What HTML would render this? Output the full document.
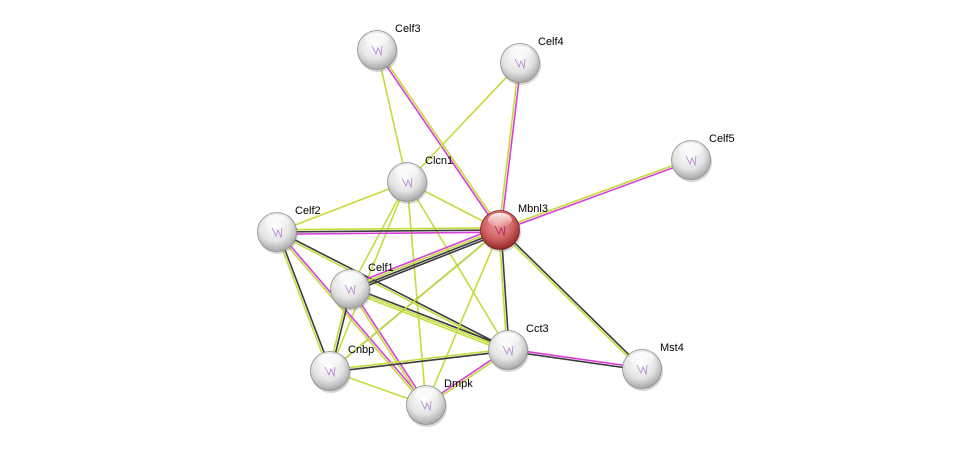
<!DOCTYPE html>
<html><head><meta charset="utf-8"><style>
html,body{margin:0;padding:0;background:#fff;width:976px;height:450px;overflow:hidden}
svg{display:block}
text{font-family:"Liberation Sans",sans-serif;font-size:11px;fill:#000}
</style></head><body>
<svg id="s" width="976" height="450" xmlns="http://www.w3.org/2000/svg">
<defs>
<radialGradient id="g" cx="0.45" cy="0.35" r="0.65">
<stop offset="0" stop-color="#ffffff"/><stop offset="0.6" stop-color="#e4e4e4"/><stop offset="1" stop-color="#a8a8a8"/></radialGradient>
<radialGradient id="r" cx="0.45" cy="0.35" r="0.65">
<stop offset="0" stop-color="#f0a0a0"/><stop offset="0.6" stop-color="#d06060"/><stop offset="1" stop-color="#902828"/></radialGradient>
<linearGradient id="hl" x1="0" y1="0" x2="0" y2="1"><stop offset="0" stop-color="#fff" stop-opacity="0.9"/><stop offset="1" stop-color="#fff" stop-opacity="0"/></linearGradient>
</defs>
<g id="edges"></g><g id="nodes"></g>
</svg>
<script>
var N={Celf3:[377,50],Celf4:[520,63],Celf5:[691,160],Clcn1:[407,182],Mbnl3:[500,230],Celf2:[277,232],Celf1:[350,289],Cct3:[508,350],Mst4:[642,369],Cnbp:[330,371],Dmpk:[426,405]};
var C={y:"#c4dc3a",m:"#d83ed8",k:"#3c3c3c"};
var E=[["Celf3","Clcn1","y"],["Celf3","Mbnl3","ym"],["Celf4","Clcn1","y"],["Celf4","Mbnl3","my"],["Celf5","Mbnl3","my"],
["Clcn1","Celf2","y"],["Clcn1","Mbnl3","y"],["Clcn1","Celf1","y"],["Clcn1","Cnbp","y"],["Clcn1","Dmpk","y"],["Clcn1","Cct3","y"],
["Celf2","Mbnl3","ykm"],["Celf2","Cnbp","ky"],["Celf2","Dmpk","my"],["Celf2","Cct3","ky"],
["Celf1","Mbnl3","mykk"],["Celf1","Cct3","kyy"],["Celf1","Cnbp","ky"],["Celf1","Dmpk","my"],
["Mbnl3","Cnbp","k"],["Mbnl3","Dmpk","y"],["Mbnl3","Cct3","ky"],["Mbnl3","Mst4","ky"],["Mbnl3","Cnbp","y"],
["Cnbp","Cct3","yk"],["Cnbp","Dmpk","y"],["Dmpk","Cct3","my"],["Cct3","Mst4","mk"]];
var ns="http://www.w3.org/2000/svg",eg=document.getElementById("edges"),ng=document.getElementById("nodes");
E.forEach(function(e){var a=N[e[0]],b=N[e[1]],dx=b[0]-a[0],dy=b[1]-a[1],L=Math.hypot(dx,dy),px=-dy/L,py=dx/L,n=e[2].length;
for(var i=0;i<n;i++){var o=(i-(n-1)/2)*2.2;var l=document.createElementNS(ns,"line");
l.setAttribute("x1",a[0]+px*o);l.setAttribute("y1",a[1]+py*o);l.setAttribute("x2",b[0]+px*o);l.setAttribute("y2",b[1]+py*o);
l.setAttribute("stroke",C[e[2][i]]);l.setAttribute("stroke-width","1.6");eg.appendChild(l);}});
for(var k in N){var p=N[k];
var sh=document.createElementNS(ns,"circle");sh.setAttribute("cx",p[0]+1);sh.setAttribute("cy",p[1]+2);sh.setAttribute("r",20);sh.setAttribute("fill","#888");sh.setAttribute("opacity","0.35");ng.appendChild(sh);
var c=document.createElementNS(ns,"circle");c.setAttribute("cx",p[0]);c.setAttribute("cy",p[1]);c.setAttribute("r",19.5);
c.setAttribute("fill",k=="Mbnl3"?"url(#r)":"url(#g)");c.setAttribute("stroke",k=="Mbnl3"?"#7a2020":"#909090");c.setAttribute("stroke-width","0.8");ng.appendChild(c);
var h=document.createElementNS(ns,"ellipse");h.setAttribute("cx",p[0]);h.setAttribute("cy",p[1]-10);h.setAttribute("rx",12);h.setAttribute("ry",7);h.setAttribute("fill","url(#hl)");ng.appendChild(h);
var g=document.createElementNS(ns,"path");g.setAttribute("d","M"+(p[0]-5)+" "+(p[1]-4)+" l4 8 l2 -6 l3 7 l1 -9");g.setAttribute("stroke",k=="Mbnl3"?"#a02060":"#b080d0");g.setAttribute("fill","none");g.setAttribute("stroke-width","0.8");ng.appendChild(g);
var t=document.createElementNS(ns,"text");t.setAttribute("x",p[0]+18);t.setAttribute("y",p[1]-18);t.textContent=k;ng.appendChild(t);}
</script>
</body></html>
